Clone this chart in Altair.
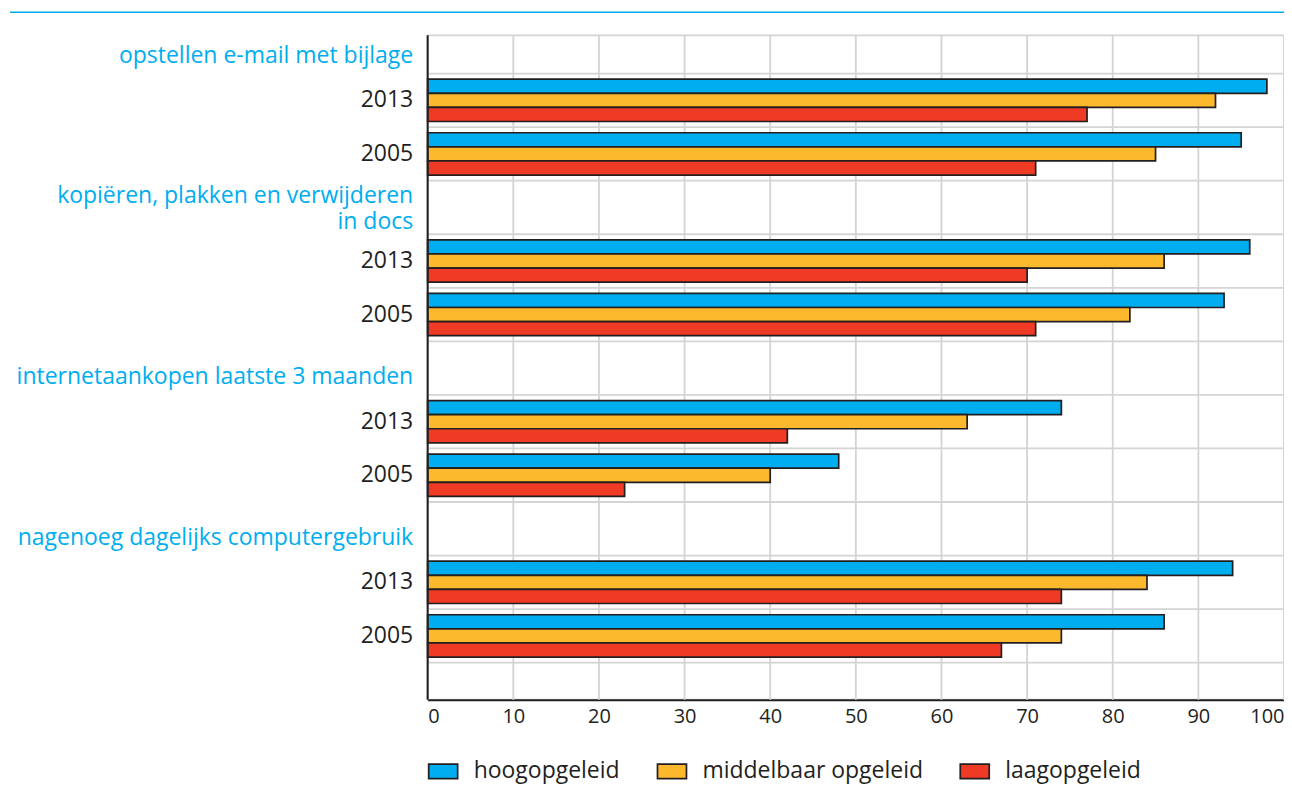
import altair as alt
import pandas as pd

categories = [
    "opstellen e-mail met bijlage",
    "kopiëren, plakken en verwijderen|in docs",
    "internetaankopen laatste 3 maanden",
    "nagenoeg dagelijks computergebruik",
]
years = ["2013", "2005"]
series = ["hoogopgeleid", "middelbaar opgeleid", "laagopgeleid"]
colors = ["#00AEEF", "#FDB92E", "#EF3A26"]

hoog_2013 = [98, 96, 74, 94]
hoog_2005 = [95, 93, 48, 86]
midd_2013 = [92, 86, 63, 84]
midd_2005 = [85, 82, 40, 74]
laag_2013 = [77, 70, 42, 74]
laag_2005 = [71, 71, 23, 67]
x_ticks = [0, 10, 20, 30, 40, 50, 60, 70, 80, 90, 100]

values = {
    ("hoogopgeleid", "2013"): hoog_2013,
    ("hoogopgeleid", "2005"): hoog_2005,
    ("middelbaar opgeleid", "2013"): midd_2013,
    ("middelbaar opgeleid", "2005"): midd_2005,
    ("laagopgeleid", "2013"): laag_2013,
    ("laagopgeleid", "2005"): laag_2005,
}

slots = []
rows = []
for i, cat in enumerate(categories):
    slots.append(cat)
    for yr in years:
        key = f"{yr}#{i}"
        slots.append(key)
        for s in series:
            rows.append({"slot": key, "series": s, "value": values[(s, yr)][i]})
df = pd.DataFrame(rows)
slot_df = pd.DataFrame({"slot": slots})
tick_df = pd.DataFrame({"tick": x_ticks})

W, H = 857, 665
STEP = 53.6
TOP = -15.3
yscale = alt.Scale(domain=slots, range=[TOP, TOP + STEP * len(slots)],
                   paddingInner=0, paddingOuter=0)
xscale = alt.Scale(domain=[0, 100], nice=False)
FONT = "Open Sans"
DARK = "#231F20"
BLUE = "#00AEEF"
GRID = "#d4d4d4"

yaxis = alt.Axis(ticks=False, grid=False, domain=False,
                 labelPadding=15, labelFontSize=23, labelFont=FONT, labelLimit=420,
                 labelLineHeight=26,
                 labelExpr="indexof(datum.label, '#') >= 0 ? split(datum.label, '#')[0] : split(datum.label, '|')",
                 labelColor={"condition": {"test": "indexof(datum.value, '#') < 0", "value": BLUE},
                             "value": DARK},
                 labelOffset={"condition": [
                     {"test": "indexof(datum.value, '|') >= 0", "value": -11},
                     {"test": "indexof(datum.value, '#') < 0", "value": 9}],
                     "value": 0})

hgrid = alt.Chart(slot_df).mark_rule(color=GRID, strokeWidth=1.8).encode(
    y=alt.Y("slot:N", scale=yscale, bandPosition=1, title=None, axis=yaxis),
    x=alt.value(0),
    x2=alt.value(W),
)

vgrid = alt.Chart(tick_df).mark_rule(color=GRID, strokeWidth=1.8).encode(
    x=alt.X("tick:Q", scale=xscale, title=None),
    y=alt.value(0),
    y2=alt.value(H),
)

bars = alt.Chart(df).mark_bar(stroke=DARK, strokeWidth=1.7).encode(
    x=alt.X("value:Q", scale=xscale,
            axis=alt.Axis(values=x_ticks, title=None, grid=False, ticks=False,
                          domainColor=DARK, domainWidth=2,
                          labelFontSize=20, labelColor=DARK, labelPadding=7, labelFont=FONT)),
    y=alt.Y("slot:N", scale=yscale, title=None, axis=yaxis),
    yOffset=alt.YOffset("series:N", scale=alt.Scale(domain=series, paddingInner=0, paddingOuter=0.4)),
    color=alt.Color("series:N", scale=alt.Scale(domain=series, range=colors),
                    legend=alt.Legend(title=None, orient="none", legendX=0, legendY=721,
                                      direction="horizontal",
                                      symbolType="M-1,-0.5L1,-0.5L1,0.5L-1,0.5Z",
                                      symbolSize=841, symbolStrokeColor=DARK, symbolStrokeWidth=1.7,
                                      symbolOpacity=1, labelLimit=400,
                                      labelFontSize=23, labelFont=FONT, labelColor=DARK,
                                      labelOffset=15, columnPadding=33)),
)

yline = alt.Chart(pd.DataFrame({"a": [0]})).mark_rule(color=DARK, strokeWidth=2).encode(
    x=alt.value(0), y=alt.value(0), y2=alt.value(H)
)

topline = alt.Chart(pd.DataFrame({"a": [0]})).mark_rule(color=BLUE, strokeWidth=1.5).encode(
    x=alt.value(-418), x2=alt.value(870), y=alt.value(-23)
)

chart = alt.layer(hgrid, vgrid, bars, yline, topline).properties(
    width=W, height=H,
    autosize=alt.AutoSizeParams(type="none"),
    padding={"left": 420, "top": 27, "right": 0, "bottom": 90},
).configure_view(stroke=GRID, strokeWidth=1.8)

chart.save("out.html", embed_options={"renderer": "svg", "actions": False})
